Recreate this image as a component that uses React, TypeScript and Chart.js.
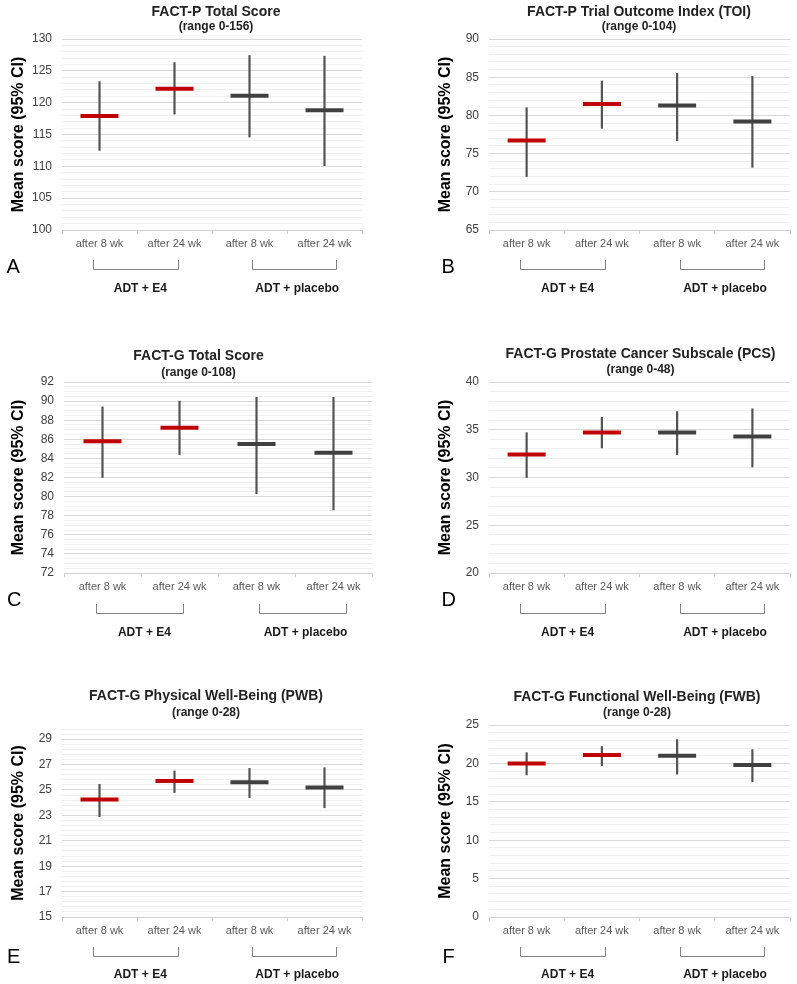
import React, { useEffect, useRef } from "react";
import { Chart, registerables } from "chart.js";

Chart.register(...registerables);
Chart.defaults.font.family = "'Liberation Sans', Arial, sans-serif";

// ---- data ----
const categories = ["after 8 wk", "after 24 wk", "after 8 wk", "after 24 wk"];
const groupLabels = ["ADT + E4", "ADT + placebo"];

const factPTotalMean = [117.9, 122.2, 121.1, 118.8];
const factPTotalLow = [112.5, 118.2, 114.6, 110.1];
const factPTotalHigh = [123.3, 126.3, 127.4, 127.3];

const factPToiMean = [76.7, 81.5, 81.3, 79.2];
const factPToiLow = [72.0, 78.3, 76.7, 73.2];
const factPToiHigh = [81.0, 84.5, 85.5, 85.1];

const factGTotalMean = [85.8, 87.2, 85.5, 84.6];
const factGTotalLow = [82.0, 84.4, 80.3, 78.6];
const factGTotalHigh = [89.4, 90.0, 90.4, 90.4];

const pcsMean = [32.4, 34.7, 34.7, 34.3];
const pcsLow = [30.0, 33.1, 32.4, 31.1];
const pcsHigh = [34.7, 36.3, 36.9, 37.2];

const pwbMean = [24.25, 25.7, 25.6, 25.2];
const pwbLow = [22.9, 24.8, 24.4, 23.6];
const pwbHigh = [25.45, 26.5, 26.7, 26.75];

const fwbMean = [20.0, 21.1, 21.0, 19.8];
const fwbLow = [18.5, 19.7, 18.6, 17.6];
const fwbHigh = [21.4, 22.2, 23.1, 21.8];

// axis tick settings per panel (A..F)
const yMins = [100, 65, 72, 20, 15, 0];
const yMaxs = [130, 90, 92, 40, 29.8, 25];
const yMajorSteps = [5, 5, 2, 5, 2, 5];
const yMinorSteps = [1, 1, 0.5, 1, 0.4, 1];

const titles = [
  "FACT-P Total Score",
  "FACT-P Trial Outcome Index (TOI)",
  "FACT-G Total Score",
  "FACT-G Prostate Cancer Subscale (PCS)",
  "FACT-G Physical Well-Being (PWB)",
  "FACT-G Functional Well-Being (FWB)",
];
const subtitles = ["(range 0-156)", "(range 0-104)", "(range 0-108)", "(range 0-48)", "(range 0-28)", "(range 0-28)"];
const letters = ["A", "B", "C", "D", "E", "F"];
const yAxisTitle = "Mean score (95% CI)";

const means = [factPTotalMean, factPToiMean, factGTotalMean, pcsMean, pwbMean, fwbMean];
const lows = [factPTotalLow, factPToiLow, factGTotalLow, pcsLow, pwbLow, fwbLow];
const highs = [factPTotalHigh, factPToiHigh, factGTotalHigh, pcsHigh, pwbHigh, fwbHigh];

// ---- layout / style ----
const RED = "#c00000";
const DARK = "#404040";
const markerColors = [RED, RED, DARK, DARK];
const FONT = "'Liberation Sans', Arial, sans-serif";

type Layout = {
  left: number; top: number; w: number; h: number;
  plotL: number; plotR: number; plotT: number; plotB: number;
  titleX: number; titleY: number; subY: number; yTitleX: number;
  bracketT: number; bracketB: number; groupDy: number; letterX: number; letterDy: number;
};

const layouts: Layout[] = [
  { left: 0, top: 0, w: 398, h: 330, plotL: 62, plotR: 362, plotT: 39, plotB: 230, titleX: 216, titleY: 12, subY: 26.5, yTitleX: 18.5, bracketT: 30, bracketB: 39, groupDy: 59, letterX: 6.5, letterDy: 37 },
  { left: 398, top: 0, w: 440, h: 330, plotL: 489, plotR: 790, plotT: 39, plotB: 230, titleX: 639, titleY: 12, subY: 26.5, yTitleX: 446, bracketT: 30, bracketB: 39, groupDy: 59, letterX: 441.5, letterDy: 37 },
  { left: 0, top: 335, w: 398, h: 337, plotL: 64, plotR: 372, plotT: 382, plotB: 573, titleX: 198.5, titleY: 356.5, subY: 373, yTitleX: 18.5, bracketT: 31, bracketB: 40, groupDy: 60, letterX: 7, letterDy: 27 },
  { left: 398, top: 335, w: 440, h: 337, plotL: 489, plotR: 790, plotT: 382, plotB: 573, titleX: 640.5, titleY: 354.5, subY: 370, yTitleX: 446, bracketT: 31, bracketB: 40, groupDy: 60, letterX: 441.5, letterDy: 27 },
  { left: 0, top: 675, w: 398, h: 309, plotL: 62, plotR: 362, plotT: 729, plotB: 917, titleX: 206, titleY: 696.5, subY: 713, yTitleX: 18.5, bracketT: 30, bracketB: 39, groupDy: 58, letterX: 7, letterDy: 40 },
  { left: 398, top: 675, w: 440, h: 309, plotL: 489, plotR: 790, plotT: 725, plotB: 917, titleX: 637, titleY: 697.5, subY: 713, yTitleX: 446, bracketT: 30, bracketB: 39, groupDy: 58, letterX: 442.5, letterDy: 40 },
];

const bracketSpans = [[0.104, 0.385], [0.634, 0.914]];
const groupLabelPos = [0.261, 0.784];

function isMajor(v: number, min: number, step: number) {
  const r = (v - min) / step;
  return Math.abs(r - Math.round(r)) < 1e-6;
}

function Panel({ idx }: { idx: number }) {
  const ref = useRef<HTMLCanvasElement>(null);
  const L = layouts[idx];

  useEffect(() => {
    if (!ref.current) return;
    const min = yMins[idx];
    const max = yMaxs[idx];
    const major = yMajorSteps[idx];
    const minor = yMinorSteps[idx];

    const decor = {
      id: "decor" + idx,
      afterDraw(chart: any) {
        const { ctx, chartArea, scales } = chart;
        const xs = scales.x;
        ctx.save();
        ctx.textAlign = "center";
        ctx.textBaseline = "middle";
        ctx.fillStyle = "#222";
        ctx.font = `bold 14px ${FONT}`;
        ctx.fillText(titles[idx], L.titleX - L.left, L.titleY - L.top);
        ctx.font = `bold 12px ${FONT}`;
        ctx.fillText(subtitles[idx], L.titleX - L.left, L.subY - L.top);

        ctx.strokeStyle = "#808080";
        ctx.lineWidth = 1;
        bracketSpans.forEach((span, g) => {
          const x0 = Math.round(xs.getPixelForDecimal(span[0])) + 0.5;
          const x1 = Math.round(xs.getPixelForDecimal(span[1])) + 0.5;
          const yt = Math.round(chartArea.bottom + L.bracketT);
          const yb = Math.round(chartArea.bottom + L.bracketB) + 0.5;
          ctx.beginPath();
          ctx.moveTo(x0, yt);
          ctx.lineTo(x0, yb);
          ctx.lineTo(x1, yb);
          ctx.lineTo(x1, yt);
          ctx.stroke();
          ctx.fillStyle = "#1a1a1a";
          ctx.font = `bold 12px ${FONT}`;
          ctx.fillText(groupLabels[g], xs.getPixelForDecimal(groupLabelPos[g]), chartArea.bottom + L.groupDy);
        });

        ctx.textAlign = "left";
        ctx.fillStyle = "#000";
        ctx.font = `20px ${FONT}`;
        ctx.fillText(letters[idx], L.letterX - L.left, chartArea.bottom + L.letterDy);
        ctx.restore();
      },
    };

    const yWidth = L.plotL - L.left;
    const xHeight = L.top + L.h - L.plotB;

    const chart = new Chart(ref.current, {
      type: "bar",
      data: {
        labels: categories,
        datasets: [
          {
            type: "line",
            data: means[idx],
            showLine: false,
            pointStyle: "line",
            pointRadius: 19,
            pointHoverRadius: 19,
            pointBorderWidth: 4,
            pointHoverBorderWidth: 4,
            pointBorderColor: markerColors,
            pointBackgroundColor: markerColors,
            borderColor: markerColors,
            order: 0,
          } as any,
          {
            type: "bar",
            data: lows[idx].map((l, i) => [l, highs[idx][i]]),
            backgroundColor: "#505050",
            borderWidth: 0,
            barThickness: 1.5,
            order: 1,
          } as any,
        ],
      },
      options: {
        responsive: false,
        maintainAspectRatio: false,
        animation: false,
        events: [],
        layout: {
          padding: { left: 0, top: L.plotT - L.top, right: L.left + L.w - L.plotR, bottom: 0 },
        },
        plugins: {
          legend: { display: false },
          tooltip: { enabled: false },
          title: { display: false },
        },
        scales: {
          x: {
            offset: true,
            grid: { offset: true, drawOnChartArea: false, drawTicks: true, tickLength: 4, color: "#d0d0d0" },
            border: { display: true, color: "#d0d0d0" },
            ticks: { color: "#595959", font: { size: 11 }, padding: 3, maxRotation: 0, autoSkip: false },
            afterFit: (s: any) => { s.height = xHeight; },
          },
          y: {
            min,
            max,
            grid: {
              drawTicks: false,
              lineWidth: 1,
              color: (c: any) => (c.tick && isMajor(c.tick.value, min, major) ? "#d9d9d9" : "#efefef"),
            },
            border: { display: false },
            ticks: {
              stepSize: minor,
              autoSkip: false,
              maxTicksLimit: 1000,
              padding: 10,
              color: "#404040",
              font: { size: 12 },
              callback: (v: any) => (isMajor(Number(v), min, major) ? String(Math.round(Number(v) * 100) / 100) : ""),
            },
            title: {
              display: true,
              text: yAxisTitle,
              color: "#000",
              font: { size: 16, weight: "bold" },
              padding: { top: L.yTitleX - L.left - 9.6, bottom: 0 },
            },
            afterFit: (s: any) => { s.width = yWidth; },
          },
        },
      },
      plugins: [decor],
    } as any);
    return () => chart.destroy();
  }, []);

  return (
    <canvas
      ref={ref}
      width={L.w}
      height={L.h}
      style={{ position: "absolute", left: L.left, top: L.top, width: L.w, height: L.h }}
    />
  );
}

export default function App() {
  return (
    <div style={{ position: "absolute", left: 0, top: 0, width: 797, height: 984, background: "#fff", overflow: "hidden" }}>
      {layouts.map((_, i) => (
        <Panel key={i} idx={i} />
      ))}
    </div>
  );
}
